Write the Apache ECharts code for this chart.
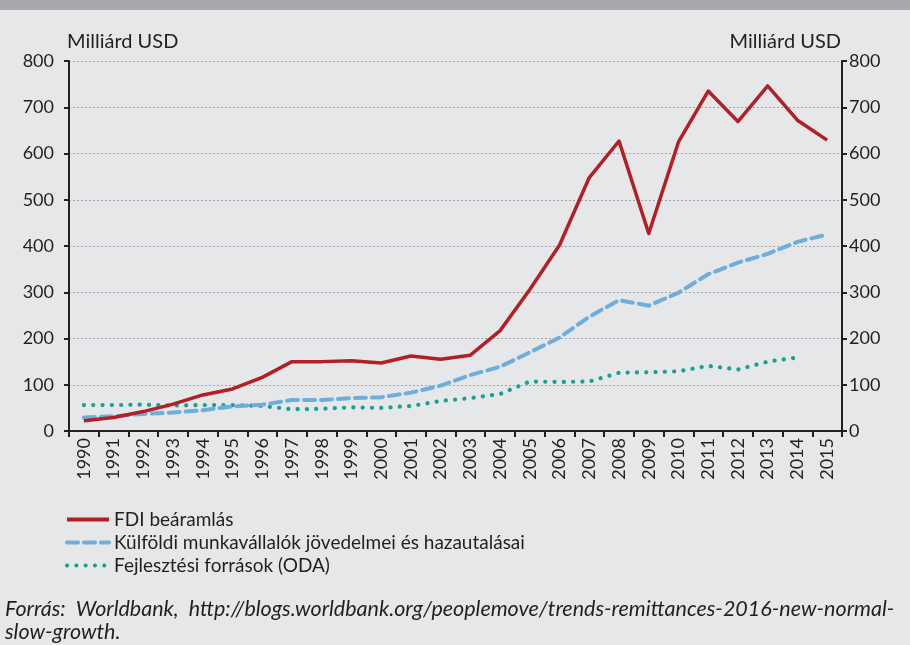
<!DOCTYPE html>
<html>
<head>
<meta charset="utf-8">
<script src="https://cdn.jsdelivr.net/npm/echarts@6/dist/echarts.min.js"></script>
<style>
html,body{margin:0;padding:0;background:#e6e7e8;}
#chart{width:910px;height:645px;}
</style>
</head>
<body>
<div id="chart"></div>
<script>
var years = ['1990','1991','1992','1993','1994','1995','1996','1997','1998','1999','2000','2001','2002','2003','2004','2005','2006','2007','2008','2009','2010','2011','2012','2013','2014','2015'];
var fdi = [22,29,42,58,78,91,116,150,150,152,147,162,155,164,217,306,402,548,627,427,625,735,669,746,672,629];
var remittances = [29,32,37,40,45,53,57,67,67,71,73,83,98,121,139,170,202,247,283,271,299,339,364,383,409,425];
var oda = [56,56,57,55,56,56,54,47,48,51,50,54,65,71,80,107,106,107,126,127,129,141,133,150,159,null];
var seriesNames = ['FDI beáramlás','Külföldi munkavállalók jövedelmei és hazautalásai','Fejlesztési források (ODA)'];
var axisName = 'Milliárd USD';
var sourceLine1 = 'Forrás:  Worldbank,  http://blogs.worldbank.org/peoplemove/trends-remittances-2016-new-normal-';
var sourceLine2 = 'slow-growth.';

var FONT = 'Lato';
var TXT = '#231f20';
var chart = echarts.init(document.getElementById('chart'), null, {renderer:'canvas'});
var yCommon = {
  type:'value', min:0, max:800, interval:100,
  name: axisName, nameLocation:'end', nameGap:9,
  axisLine:{show:true, lineStyle:{color:TXT, width:2}},
  axisTick:{show:true, length:5, lineStyle:{color:TXT, width:2}},
  axisLabel:{color:TXT, fontFamily:FONT, fontSize:18}
};
chart.setOption({
  backgroundColor:'#e6e7e8',
  animation:false,
  grid:{left:69, right:68, top:61, bottom:214, containLabel:false},
  legend:{
    orient:'vertical', left:60, top:505,
    itemWidth:42, itemHeight:12, itemGap:4,
    itemStyle:{opacity:0},
    lineStyle:{width:4},
    textStyle:{color:TXT, fontFamily:FONT, fontSize:19},
    data: seriesNames
  },
  xAxis:{
    type:'category', data:years, boundaryGap:true,
    axisLine:{lineStyle:{color:TXT, width:2}},
    axisTick:{show:true, length:6, lineStyle:{color:TXT, width:2}},
    axisLabel:{rotate:90, margin:7, color:TXT, fontFamily:FONT, fontSize:18, interval:0},
    splitLine:{show:false}
  },
  yAxis:[
    Object.assign({}, yCommon, {
      position:'left',
      nameTextStyle:{color:TXT, fontFamily:FONT, fontSize:20, align:'left', padding:[0,0,0,-2]},
      axisLabel:Object.assign({}, yCommon.axisLabel, {margin:15}),
      splitLine:{show:true, lineStyle:{color:'#a3a5a8', width:1, type:[2,2]}}
    }),
    Object.assign({}, yCommon, {
      position:'right',
      nameTextStyle:{color:TXT, fontFamily:FONT, fontSize:20, align:'right', padding:[0,1,0,0]},
      axisLabel:Object.assign({}, yCommon.axisLabel, {margin:7}),
      splitLine:{show:false}
    })
  ],
  series:[
    {name:seriesNames[0], type:'line', data:fdi, symbol:'none', yAxisIndex:0,
     itemStyle:{color:'#b21f24'},
     lineStyle:{color:'#b21f24', width:3.5, join:'round'}, z:4},
    {name:seriesNames[1], type:'line', data:remittances, symbol:'none', yAxisIndex:0,
     itemStyle:{color:'#6eaedc'},
     lineStyle:{color:'#6eaedc', width:4, type:[11,6], cap:'round'}, z:3},
    {name:seriesNames[2], type:'line', data:oda, symbol:'none', yAxisIndex:0,
     itemStyle:{color:'#16a193'},
     lineStyle:{color:'#16a193', width:4.2, type:[0.1,9.2], cap:'round'}, z:2}
  ],
  graphic:[
    {type:'rect', left:0, top:0, shape:{width:910, height:10}, style:{fill:'#a7a8ab'}, silent:true},
    {type:'text', left:5, top:598, style:{text:sourceLine1, fill:TXT, font:'italic 21.5px Lato'}},
    {type:'text', left:5, top:621, style:{text:sourceLine2, fill:TXT, font:'italic 21.5px Lato'}}
  ]
});
</script>
</body>
</html>
